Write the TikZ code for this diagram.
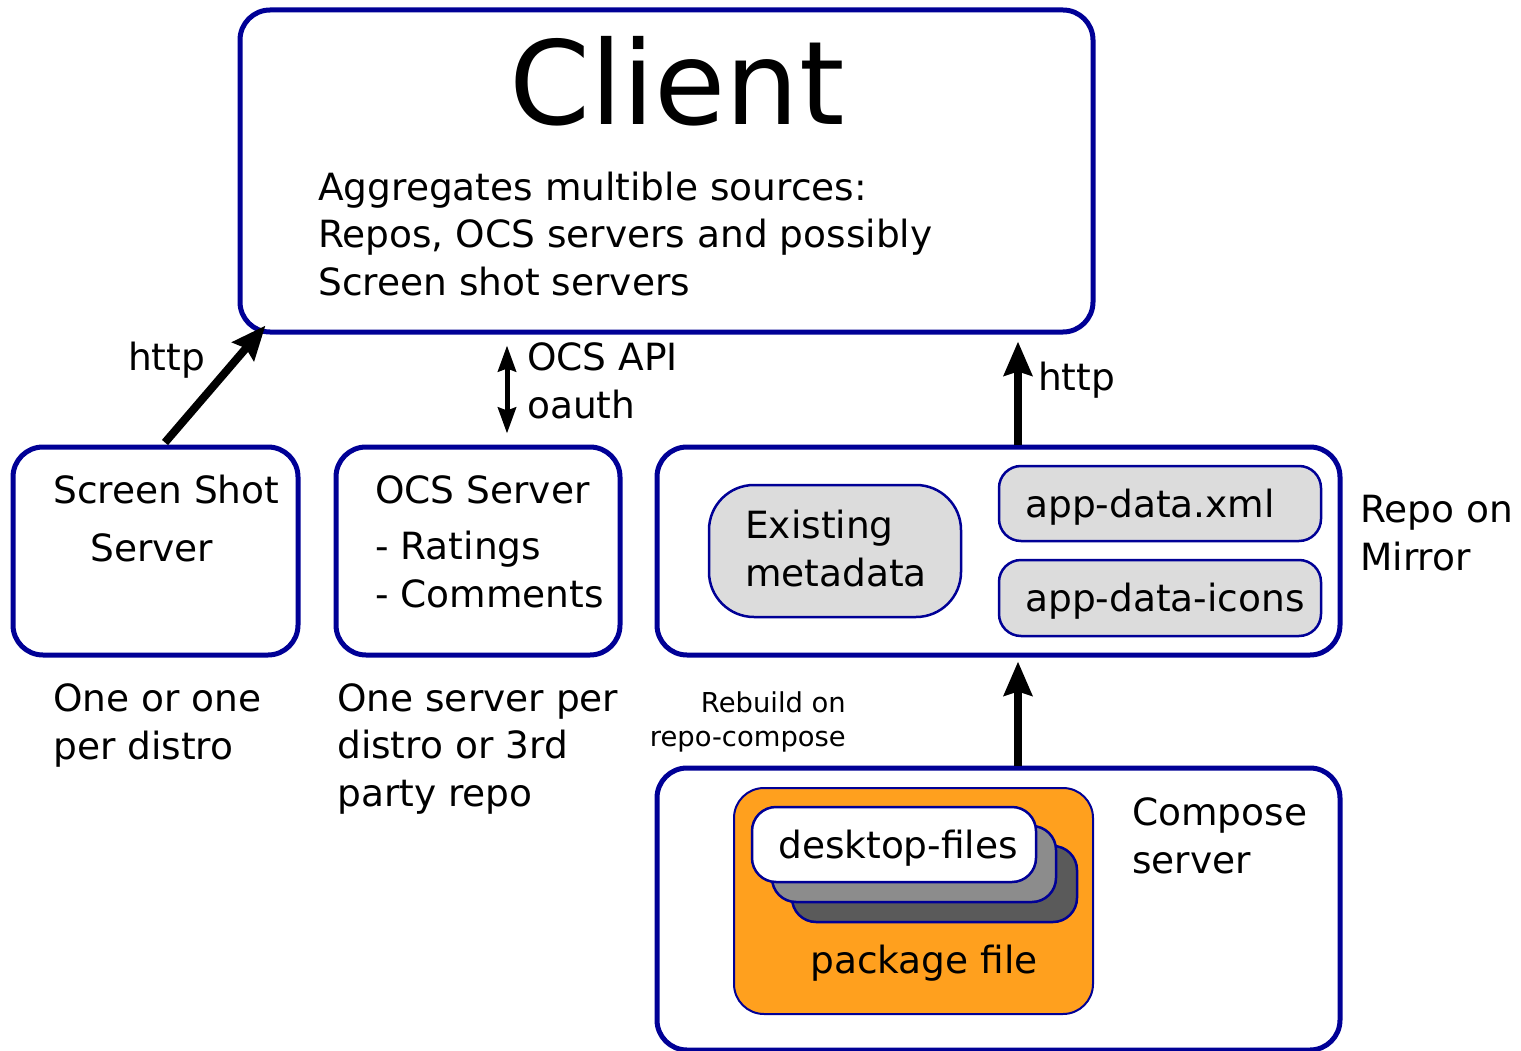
\documentclass[tikz,border=0pt]{standalone}
\usepackage{fontspec}
\setmainfont{DejaVu Sans}
\usetikzlibrary{arrows.meta}
\definecolor{bblue}{HTML}{000096}
\definecolor{orng}{HTML}{FFA01E}
\definecolor{lgray}{HTML}{DCDCDC}
\definecolor{mgray}{HTML}{8C8C8C}
\definecolor{dgray}{HTML}{5A5A5A}
\begin{document}
\begin{tikzpicture}[x=1pt,y=-1pt,
  outerbox/.style={draw=bblue, line width=5pt, rounded corners=30pt, rectangle, inner sep=0pt, fill=white},
  innerbox/.style={draw=bblue, line width=2.5pt, rectangle, inner sep=0pt},
  txt/.style={font=\fontsize{37.5}{47.5}\selectfont, align=left, inner sep=0pt, anchor=base west},
  small/.style={font=\fontsize{27.4}{34}\selectfont, align=right, inner sep=0pt, anchor=base east},
  bigarrow/.style={line width=8pt, -{Stealth[length=34pt,width=28pt,inset=4pt]}},
  dblarrow/.style={line width=5pt, {Stealth[length=26pt,width=18pt,inset=3pt]}-{Stealth[length=26pt,width=18pt,inset=3pt]}}
]
\useasboundingbox (0,0) rectangle (1521,1051);
% boxes
\node[outerbox, minimum width=853pt, minimum height=322pt] (client) at (666.5,171) {};
\node[outerbox, minimum width=285pt, minimum height=208pt] (ss) at (155.5,551) {};
\node[outerbox, minimum width=284pt, minimum height=208pt] (ocs) at (478,551) {};
\node[outerbox, minimum width=683pt, minimum height=208pt] (repo) at (998.5,551) {};
\node[outerbox, minimum width=683pt, minimum height=282pt] (compose) at (998.5,909) {};
% inner boxes of repo
\node[innerbox, fill=lgray, rounded corners=45pt, minimum width=252pt, minimum height=132pt] (exist) at (835,551) {};
\node[innerbox, fill=lgray, rounded corners=22pt, minimum width=322pt, minimum height=75pt] (xml) at (1160,503.5) {};
\node[innerbox, fill=lgray, rounded corners=22pt, minimum width=322pt, minimum height=76pt] (icons) at (1160,598) {};
% compose contents
\node[innerbox, fill=orng, line width=2pt, rounded corners=30pt, minimum width=359pt, minimum height=226pt] (pkg) at (913.5,901) {};
\node[innerbox, fill=dgray, rounded corners=24pt, minimum width=285pt, minimum height=76pt] (layerc) at (934.5,884) {};
\node[innerbox, fill=mgray, rounded corners=24pt, minimum width=284pt, minimum height=76pt] (layerb) at (914,864) {};
\node[innerbox, fill=white, rounded corners=24pt, minimum width=284pt, minimum height=75pt] (layera) at (894,844.5) {};
% texts (base anchor = baseline of the last line)
\node[font=\fontsize{116}{116}\selectfont, inner sep=0pt, anchor=base] (clienttitle) at (677,125) {Client};
\node[txt] (agg) at (318,295) {Aggregates multible sources:\\Repos, OCS servers and possibly\\Screen shot servers};
\node[txt] (sst) at (53,503) {Screen Shot};
\node[txt] (sst2) at (90,561) {Server};
\node[txt] (ocst) at (375,503) {OCS Server};
\node[txt] (ocsl) at (375,607) {- Ratings\\- Comments};
\node[txt] (existt) at (745,586) {Existing\\metadata};
\node[txt] (xmlt) at (1025,517) {app-data.xml};
\node[txt] (iconst) at (1025,611) {app-data-icons};
\node[txt] (repot) at (1360,570) {Repo on\\Mirror};
\node[txt] (compt) at (1132,873) {Compose\\server};
\node[txt] (deskt) at (778,858) {desktop-files};
\node[txt] (pkgt) at (810,973) {package file};
\node[txt] (onet) at (53,759) {One or one\\per distro};
\node[txt] (ocsnote) at (337,806) {One server per\\distro or 3rd\\party repo};
\node[txt] (http1) at (128,370) {http};
\node[txt] (apit) at (527,418) {OCS API\\oauth};
\node[txt] (http2) at (1038,390) {http};
\node[small] (rebuild) at (846,746) {Rebuild on\\repo-compose};
% connectors
\draw[bigarrow] ([xshift=9.5pt,yshift=2pt]ss.north) -- ([xshift=28pt,yshift=9pt]client.south west);
\draw[dblarrow] ([xshift=-159.5pt,yshift=-11pt]client.south) -- ([xshift=29pt,yshift=11pt]ocs.north);
\draw[bigarrow] ([xshift=19.5pt]repo.north) -- ([xshift=351.5pt,yshift=-7pt]client.south);
\draw[bigarrow] ([xshift=19.5pt]compose.north) -- ([xshift=19.5pt,yshift=-4pt]repo.south);
\end{tikzpicture}
\end{document}
